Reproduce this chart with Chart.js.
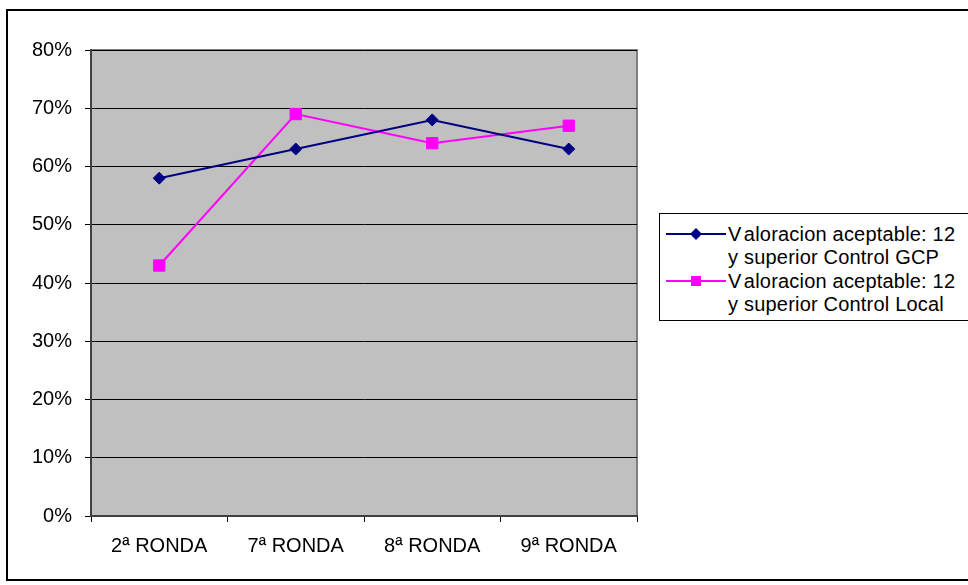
<!DOCTYPE html>
<html>
<head>
<meta charset="utf-8">
<script src="https://cdn.jsdelivr.net/npm/chart.js@4/dist/chart.umd.min.js"></script>
<style>
  html, body { margin: 0; padding: 0; background: #fff; }
  #wrap { position: relative; width: 968px; height: 585px; overflow: hidden; font-family: Arial, "Liberation Sans", sans-serif; }
  #frame { position: absolute; left: 6px; top: 9px; width: 1000px; height: 572px; border: 2px solid #000; box-sizing: border-box; pointer-events: none; }
  canvas { position: absolute; left: 0; top: 0; }
  #legend { position: absolute; left: 659px; top: 213px; width: 340px; height: 108px; border: 1px solid #000; box-sizing: border-box; background: #fff; }
  .item { position: absolute; left: 0; font-size: 20px; line-height: 23px; color: #000; }
  .item .txt { position: absolute; left: 68px; white-space: nowrap; letter-spacing: 0.2px; }
  .item .sw { position: absolute; left: 6px; width: 60px; height: 12px; }
  .v { letter-spacing: 2.5px; }
</style>
</head>
<body>
<div id="wrap">
  <canvas id="c" width="968" height="585"></canvas>
  <div id="frame"></div>
  <div id="legend"></div>
</div>
<script>
// Rounds on the category axis
const categories = ['2ª RONDA', '7ª RONDA', '8ª RONDA', '9ª RONDA'];
// Share of acceptable ratings (12 and above), in percent
const controlGCP = [58, 63, 68, 63];
const controlLocal = [43, 69, 64, 67];
const seriesNames = [
  ['Valoracion aceptable: 12', 'y superior Control GCP'],
  ['Valoracion aceptable: 12', 'y superior Control Local']
];
const yTicks = [0, 10, 20, 30, 40, 50, 60, 70, 80];

const NAVY = '#000080';
const MAGENTA = '#FF00FF';
const FONT = { family: 'Arial, "Liberation Sans", sans-serif', size: 20 };

// Grey plot background with a darker frame
const plotBackground = {
  id: 'plotBackground',
  beforeDraw(chart) {
    const { ctx, chartArea: a } = chart;
    ctx.save();
    ctx.fillStyle = '#C0C0C0';
    ctx.fillRect(a.left, a.top, a.right - a.left, a.bottom - a.top);
    ctx.strokeStyle = '#808080';
    ctx.lineWidth = 2;
    ctx.strokeRect(a.left, a.top, a.right - a.left, a.bottom - a.top);
    ctx.restore();
  }
};

new Chart(document.getElementById('c'), {
  type: 'line',
  data: {
    labels: categories,
    datasets: [
      {
        label: seriesNames[0].join(' '),
        data: controlGCP,
        borderColor: NAVY,
        backgroundColor: NAVY,
        borderWidth: 2,
        pointStyle: 'rectRot',
        pointRadius: 6,
        pointBorderWidth: 1,
        tension: 0
      },
      {
        label: seriesNames[1].join(' '),
        data: controlLocal,
        borderColor: MAGENTA,
        backgroundColor: MAGENTA,
        borderWidth: 2,
        pointStyle: 'rect',
        pointRadius: 8,
        pointBorderWidth: 1,
        tension: 0
      }
    ]
  },
  options: {
    responsive: false,
    animation: false,
    layout: { padding: { left: 0, top: 50, right: 331, bottom: 0 } },
    plugins: { legend: { display: false }, tooltip: { enabled: false } },
    scales: {
      x: {
        offset: true,
        grid: {
          offset: true,
          drawOnChartArea: false,
          drawTicks: true,
          tickLength: 6,
          color: '#000'
        },
        border: { color: '#404040', width: 2 },
        ticks: { color: '#000', font: FONT, padding: 12, maxRotation: 0 },
        afterFit(s) { s.height = 69; }
      },
      y: {
        min: 0,
        max: 80,
        afterBuildTicks(s) { s.ticks = yTicks.map(v => ({ value: v })); },
        grid: { color: '#000', lineWidth: 1, tickLength: 6, drawTicks: true },
        border: { color: '#404040', width: 2 },
        ticks: {
          color: '#000',
          font: FONT,
          padding: 13,
          callback: v => v + '%'
        },
        afterFit(s) { s.width = 91; }
      }
    }
  },
  plugins: [plotBackground]
});

// Legend entries with two-line labels
const legend = document.getElementById('legend');
const swatches = [
  `<svg class="sw" style="top:5px" viewBox="0 0 60 12"><line x1="0" y1="6" x2="60" y2="6" stroke="${NAVY}" stroke-width="2"/><polygon points="30,0 36,6 30,12 24,6" fill="${NAVY}"/></svg>`,
  `<svg class="sw" style="top:5px" viewBox="0 0 60 12"><line x1="0" y1="6" x2="60" y2="6" stroke="${MAGENTA}" stroke-width="2"/><rect x="25" y="1" width="10" height="10" fill="${MAGENTA}"/></svg>`
];
seriesNames.forEach((lines, i) => {
  const el = document.createElement('div');
  el.className = 'item';
  el.style.top = (9 + i * 47) + 'px';
  el.innerHTML = swatches[i] +
    `<div class="txt"><span class="v">${lines[0].charAt(0)}</span>${lines[0].slice(1)}<br>${lines[1]}</div>`;
  legend.appendChild(el);
});
</script>
</body>
</html>
